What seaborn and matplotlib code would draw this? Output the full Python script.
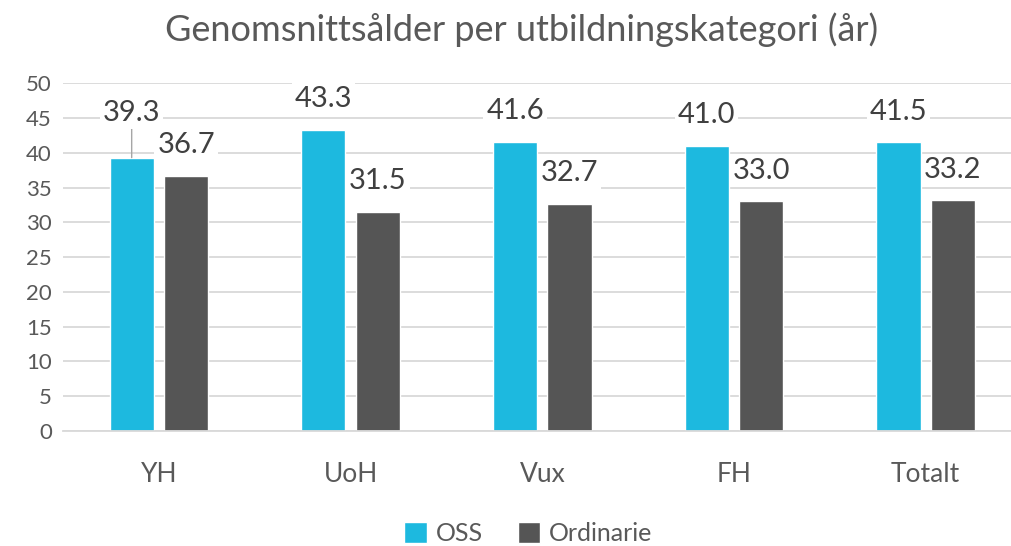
import numpy as np
import pandas as pd
import seaborn as sns
import matplotlib.pyplot as plt

categories = ["YH", "UoH", "Vux", "FH", "Totalt"]
oss = [39.3, 43.3, 41.6, 41.0, 41.5]
ordinarie = [36.7, 31.5, 32.7, 33.0, 33.2]
series = ["OSS", "Ordinarie"]
colors = ["#1DB9DF", "#555555"]

df = pd.DataFrame({
    "kategori": categories * 2,
    "grupp": [series[0]] * len(oss) + [series[1]] * len(ordinarie),
    "alder": oss + ordinarie,
})

sns.set_style("white")
plt.rcParams["font.family"] = ["Lato", "DejaVu Sans"]
text_col = "#595959"
grid_col = "#D9D9D9"

fig = plt.figure(figsize=(10.12, 5.46), dpi=100)
ax = fig.add_axes([0.0623, 0.2106, 0.9377, 0.637])

sns.barplot(data=df, x="kategori", y="alder", hue="grupp", order=categories,
            hue_order=series, palette=colors, width=0.568, gap=0.19,
            saturation=1, ax=ax, legend=True)

ax.set_ylim(0, 50)
ax.set_xlim(-0.5, 4.45)
ax.set_yticks(np.arange(0, 51, 5))
ax.yaxis.grid(True, color=grid_col, linewidth=1.3)
ax.set_axisbelow(True)
for s in ["top", "right", "left"]:
    ax.spines[s].set_visible(False)
ax.spines["bottom"].set_color(grid_col)
ax.spines["bottom"].set_linewidth(1.3)
ax.tick_params(axis="both", length=0, colors=text_col)
ax.tick_params(axis="y", labelsize=16, pad=8)
ax.tick_params(axis="x", labelsize=19, pad=22)
ax.set_xlabel("")
ax.set_ylabel("")

# data labels
for ci, cont in enumerate(ax.containers):
    for bi, bar in enumerate(cont):
        h = bar.get_height()
        xc = bar.get_x() + bar.get_width() / 2
        if ci == 0 and bi == 0:
            ax.annotate(f"{h:.1f}", (xc, h), xytext=(0, 32), textcoords="offset points",
                        ha="center", va="center", fontsize=21, color="#404040",
                        bbox=dict(boxstyle="square,pad=0.1", fc="white", ec="none"),
                        arrowprops=dict(arrowstyle="-", color="#A6A6A6", lw=1,
                                        shrinkA=0, shrinkB=0))
        else:
            ax.annotate(f"{h:.1f}", (xc, h), xytext=(0, 22), textcoords="offset points",
                        ha="center", va="center", fontsize=21, color="#404040",
                        bbox=dict(boxstyle="square,pad=0.1", fc="white", ec="none"))

handles, labels = ax.get_legend_handles_labels()
ax.get_legend().remove()
leg = fig.legend(handles, labels, loc="center", bbox_to_anchor=(0.522, 0.022),
                 ncol=2, frameon=False, fontsize=18, handlelength=0.9,
                 handleheight=0.9, handletextpad=0.35, columnspacing=1.4)
for t in leg.get_texts():
    t.set_color(text_col)

fig.text(0.515, 0.945, "Genomsnittsålder per utbildningskategori (år)", ha="center",
         va="center", fontsize=26, color=text_col)

fig.savefig("out.png", dpi=100)
